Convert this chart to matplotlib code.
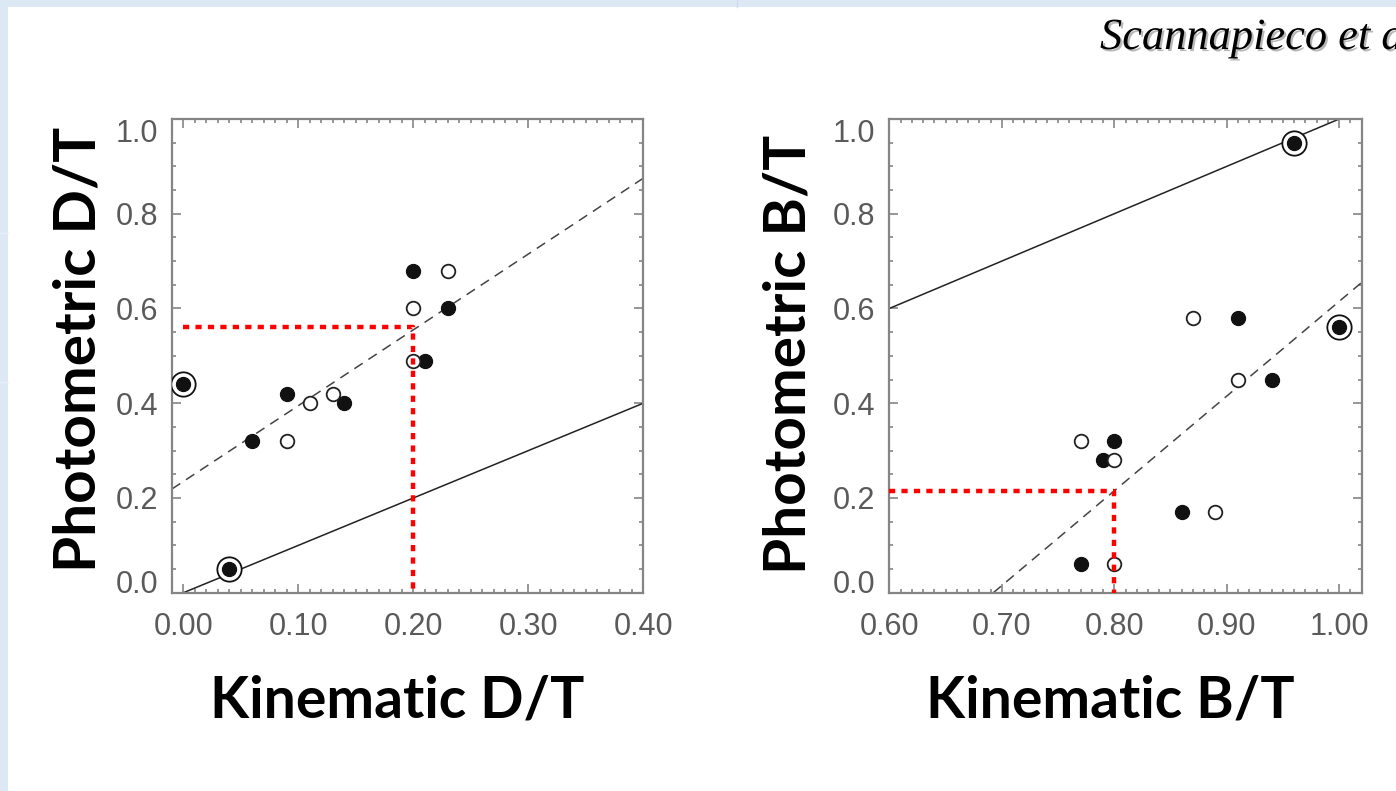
import matplotlib
matplotlib.use("Agg")
import matplotlib.pyplot as plt
import matplotlib.patheffects as pe
from matplotlib.transforms import ScaledTranslation
from matplotlib.ticker import MultipleLocator, FormatStrFormatter

# ---- data -------------------------------------------------------------
# Disc-to-total: kinematic vs photometric
dt_filled_x = [0.20, 0.23, 0.21, 0.09, 0.14, 0.06]
dt_filled_y = [0.68, 0.60, 0.49, 0.42, 0.40, 0.32]
dt_open_x = [0.23, 0.20, 0.20, 0.11, 0.13, 0.09]
dt_open_y = [0.68, 0.60, 0.49, 0.40, 0.42, 0.32]
dt_ringed_x = [0.00, 0.04]
dt_ringed_y = [0.44, 0.05]
dt_unity_x = [0.00, 0.40]
dt_unity_y = [0.00, 0.40]
dt_fit_x = [-0.01, 0.40]
dt_fit_y = [0.219, 0.875]
dt_guide_x = [0.00, 0.20, 0.20]
dt_guide_y = [0.56, 0.56, 0.00]

# Bulge-to-total: kinematic vs photometric
bt_filled_x = [0.91, 0.94, 0.80, 0.79, 0.86, 0.77]
bt_filled_y = [0.58, 0.45, 0.32, 0.28, 0.17, 0.06]
bt_open_x = [0.87, 0.91, 0.77, 0.80, 0.89, 0.80]
bt_open_y = [0.58, 0.45, 0.32, 0.28, 0.17, 0.06]
bt_ringed_x = [0.96, 1.00]
bt_ringed_y = [0.95, 0.56]
bt_unity_x = [0.60, 1.00]
bt_unity_y = [0.60, 1.00]
bt_fit_x = [0.6925, 1.02]
bt_fit_y = [0.00, 0.655]
bt_guide_x = [0.60, 0.80, 0.80]
bt_guide_y = [0.215, 0.215, 0.00]

dt_xticks = [0.00, 0.10, 0.20, 0.30, 0.40]
bt_xticks = [0.60, 0.70, 0.80, 0.90, 1.00]
yticks = [0.0, 0.2, 0.4, 0.6, 0.8, 1.0]

# ---- figure -----------------------------------------------------------
W, H = 1396, 791
fig = plt.figure(figsize=(W / 100, H / 100), dpi=100)
fig.patch.set_facecolor("white")

# slide frame strips
band = "#dde8f5"
fig.add_artist(plt.Rectangle((0, 1 - 7 / H), 1, 7 / H, transform=fig.transFigure,
                             facecolor=band, edgecolor="none", zorder=0))
fig.add_artist(plt.Rectangle((0, 0), 8 / W, 1, transform=fig.transFigure,
                             facecolor=band, edgecolor="none", zorder=0))
fig.add_artist(plt.Line2D([737 / W, 737 / W], [1 - 7 / H, 1], transform=fig.transFigure,
                          color="#cfdcec", lw=1))
for yy in (233, 382):
    fig.add_artist(plt.Line2D([0, 8 / W], [1 - yy / H, 1 - yy / H], transform=fig.transFigure,
                              color="#e8eff8", lw=1))

tick_font = dict(family="Liberation Sans", size=22, color="#5a5a5a")
label_font = dict(family="Lato", weight="bold", size=41, color="black")

spine_col = "#858585"


def make_axes(rect, xlim, xticks):
    ax = fig.add_axes(rect)
    ax.set_xlim(*xlim)
    ax.set_ylim(0, 1)
    for s in ax.spines.values():
        s.set_color(spine_col)
        s.set_linewidth(1.6)
    ax.set_xticks(xticks)
    ax.set_yticks(yticks)
    ax.xaxis.set_minor_locator(MultipleLocator(0.01))
    ax.yaxis.set_minor_locator(MultipleLocator(0.05))
    ax.xaxis.set_major_formatter(FormatStrFormatter("%.2f"))
    ax.yaxis.set_major_formatter(FormatStrFormatter("%.1f"))
    ax.tick_params(which="both", direction="in", top=True, right=True,
                   color=spine_col, width=1.2)
    ax.tick_params(which="major", length=6.5)
    ax.tick_params(which="minor", length=3.2)
    ax.tick_params(axis="x", which="major", pad=14)
    ax.tick_params(axis="y", which="major", pad=10)
    for lab in ax.get_xticklabels() + ax.get_yticklabels():
        lab.set_fontfamily(tick_font["family"])
        lab.set_fontsize(tick_font["size"])
        lab.set_color(tick_font["color"])
    ylabs = ax.get_yticklabels()
    ylabs[0].set_transform(ylabs[0].get_transform() + ScaledTranslation(0, 8 / 72, fig.dpi_scale_trans))
    ylabs[-1].set_transform(ylabs[-1].get_transform() + ScaledTranslation(0, -8 / 72, fig.dpi_scale_trans))
    return ax


def draw_panel(ax, fx, fy, ox, oy, rx, ry, ux, uy, dx, dy, gx, gy):
    ax.plot(ux, uy, color="#222222", lw=1.1, solid_capstyle="butt", zorder=2)
    ax.plot(dx, dy, color="#444444", lw=1.1, dashes=(6.5, 4.5), zorder=2)
    ax.plot(gx, gy, color="#ff0000", lw=3.2, dashes=(1.4, 1.4),
            dash_capstyle="butt", solid_joinstyle="miter", zorder=5, clip_on=True)
    ax.plot(fx, fy, "o", ms=10.2, mfc="#111111", mec="#111111", mew=0.8, ls="none", zorder=4)
    ax.plot(ox, oy, "o", ms=9.8, mfc="white", mec="#222222", mew=1.3, ls="none", zorder=4)
    ax.plot(rx, ry, "o", ms=17.5, mfc="white", mec="#111111", mew=1.3, ls="none", zorder=3)
    ax.plot(rx, ry, "o", ms=10.2, mfc="#111111", mec="#111111", mew=0.8, ls="none", zorder=4)


ax1 = make_axes([172 / W, 1 - 592.7 / H, (643.3 - 172) / W, (592.7 - 119) / H],
                (-0.01, 0.40), dt_xticks)
draw_panel(ax1, dt_filled_x, dt_filled_y, dt_open_x, dt_open_y, dt_ringed_x, dt_ringed_y,
           dt_unity_x, dt_unity_y, dt_fit_x, dt_fit_y, dt_guide_x, dt_guide_y)

ax2 = make_axes([889.3 / W, 1 - 592.7 / H, (1361.7 - 889.3) / W, (592.7 - 119) / H],
                (0.60, 1.02), bt_xticks)
draw_panel(ax2, bt_filled_x, bt_filled_y, bt_open_x, bt_open_y, bt_ringed_x, bt_ringed_y,
           bt_unity_x, bt_unity_y, bt_fit_x, bt_fit_y, bt_guide_x, bt_guide_y)

# axis titles
fig.text(397 / W, 1 - 718 / H, "Kinematic D/T", ha="center", va="baseline", **label_font)
fig.text(1110 / W, 1 - 718 / H, "Kinematic B/T", ha="center", va="baseline", **label_font)
vlabel_font = dict(label_font, size=42)
fig.text(96 / W, 1 - 349 / H, "Photometric D/T", rotation=90, ha="center", va="baseline",
         rotation_mode="anchor", **vlabel_font)
fig.text(806 / W, 1 - 354 / H, "Photometric B/T", rotation=90, ha="center", va="baseline",
         rotation_mode="anchor", **vlabel_font)

# citation, running off the right edge of the slide
fig.text(1100 / W, 1 - 49 / H, "Scannapieco et al.", family="Liberation Serif",
         style="italic", size=32, color="black", ha="left", va="baseline",
         path_effects=[pe.withSimplePatchShadow(offset=(1.5, -1.5), shadow_rgbFace="#888888", alpha=0.6)])

fig.savefig("out.png", dpi=100)
